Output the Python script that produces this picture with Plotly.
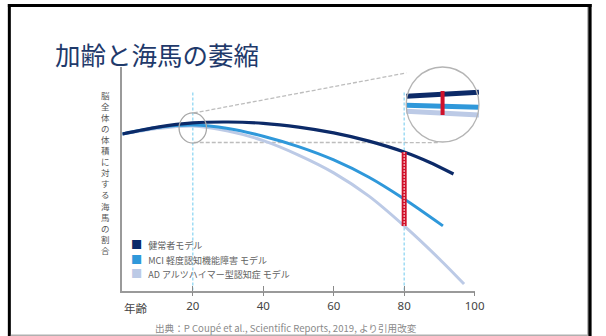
import plotly.graph_objects as go

# ---------------- data ----------------
ages_healthy = [0, 10, 20, 30, 40, 50, 60, 70, 80, 87, 94]
healthy = [70.5, 73.6, 75.5, 75.9, 75.3, 73.6, 71.0, 67.3, 62.4, 57.9, 52.5]

ages_mci = [0, 10, 20, 30, 40, 50, 60, 70, 80, 91]
mci = [70.5, 73.4, 74.5, 73.0, 69.5, 64.8, 58.8, 51.0, 41.2, 29.1]

ages_ad = [0, 10, 20, 30, 40, 50, 60, 70, 80, 90, 97]
ad = [70.5, 73.0, 74.1, 71.8, 67.5, 61.0, 53.0, 42.5, 29.1, 14.2, 2.9]

tick_vals = [20, 40, 60, 80, 100]
tick_text = ["20", "40", "60", "80", "100"]
guide_ages = [20, 80]
guide_top = 90
focus_age = 80

# magnified view around age 20 (inset)
inset_age = [17, 23]
inset_healthy = [0.61, 0.665]
inset_mci = [0.49, 0.465]
inset_ad = [0.41, 0.36]
inset_bar = [0.68, 0.36]

names = ["健常者モデル", "MCI 軽度認知機能障害 モデル", "AD アルツハイマー型認知症 モデル"]
colors = ["#0c2a68", "#2f98da", "#bccae6"]

W, H = 606, 336
def px(x):
    return x / W
def py(y):
    return 1 - y / H

fig = go.Figure()

# guide lines (age 20 / 80)
for a in guide_ages:
    fig.add_trace(go.Scatter(x=[a, a], y=[0, guide_top], mode="lines",
                             line=dict(color="#8fd6f2", width=1.3, dash="3px,2px"),
                             hoverinfo="skip", showlegend=False))

series = [(ages_ad, ad, colors[2], 3), (ages_mci, mci, colors[1], 3), (ages_healthy, healthy, colors[0], 3.2)]
for xs, ys, c, w in series:
    fig.add_trace(go.Scatter(x=xs, y=ys, mode="lines", line=dict(color=c, width=w, shape="spline", smoothing=0.8),
                             hoverinfo="skip", showlegend=False))

# red difference bar at age 80
top_v = healthy[ages_healthy.index(focus_age)]
bot_v = ad[ages_ad.index(focus_age)]
fig.add_trace(go.Scatter(x=[focus_age, focus_age], y=[top_v, bot_v], mode="lines",
                         line=dict(color="#d0112b", width=5), hoverinfo="skip", showlegend=False,
                         xaxis="x2"))
fig.add_trace(go.Scatter(x=[focus_age, focus_age], y=[top_v, bot_v], mode="lines",
                         line=dict(color="#f6c6cc", width=1.2, dash="2px,1px"), hoverinfo="skip", showlegend=False,
                         xaxis="x2"))

# inset (magnifier)
for ys, c in [(inset_ad, colors[2]), (inset_mci, colors[1]), (inset_healthy, colors[0])]:
    fig.add_trace(go.Scatter(x=inset_age, y=ys, mode="lines", line=dict(color=c, width=5),
                             xaxis="x3", yaxis="y3", hoverinfo="skip", showlegend=False))
mid = sum(inset_age) / 2
fig.add_trace(go.Scatter(x=[mid, mid], y=inset_bar, mode="lines", line=dict(color="#d0112b", width=4),
                         xaxis="x3", yaxis="y3", hoverinfo="skip", showlegend=False))

x_dom = [124.4 / W, 482.6 / W]
fig.update_layout(
    width=W, height=H,
    margin=dict(l=0, r=0, t=0, b=0),
    paper_bgcolor="white", plot_bgcolor="white",
    showlegend=False,
    font=dict(family="Noto Sans CJK JP, Noto Sans, sans-serif"),
    xaxis=dict(domain=x_dom, range=[0, 100], showgrid=False, zeroline=False,
               showline=True, linecolor="#9a9a9a", linewidth=1.5,
               ticks="outside", ticklen=4, tickwidth=1.3, tickcolor="#8a8a8a",
               tickvals=tick_vals, ticktext=tick_text,
               tickfont=dict(size=11.5, color="#444444", family="Noto Sans, sans-serif"),
               fixedrange=True),
    xaxis2=dict(domain=x_dom, matches="x", overlaying="x", anchor="y", showgrid=False, zeroline=False,
                showline=False, ticks="inside", ticklen=5, tickwidth=1.3, tickcolor="#8a8a8a",
                tickvals=tick_vals, showticklabels=False),
    yaxis=dict(domain=[py(290.5), py(67)], range=[0, (290.5 - 67) / 2.22], showgrid=False, zeroline=False,
               showline=True, linecolor="#9a9a9a", linewidth=1.5, showticklabels=False, ticks=""),
    xaxis3=dict(domain=[px(413), px(487)], range=inset_age, visible=False),
    yaxis3=dict(domain=[py(142), py(67)], range=[0, 1], visible=False, anchor="x3"),
)

shapes = []
# small magnifier circle on the main axes
cy = (290.5 - 128) / 2.22
shapes.append(dict(type="circle", xref="x", yref="y", x0=20 - 3.9, x1=20 + 3.9, y0=cy - 6.8, y1=cy + 6.8,
                   line=dict(color="#a8a8a8", width=1.3)))
# large circle framing the inset
shapes.append(dict(type="circle", xref="x3 domain", yref="y3 domain", x0=0, x1=1, y0=0, y1=1,
                   line=dict(color="#b4b4b4", width=1.3)))
# connector dashed lines
shapes.append(dict(type="line", xref="paper", yref="paper", x0=px(197), y0=py(113), x1=px(437), y1=py(68.5),
                   line=dict(color="#bdbdbd", width=1.3, dash="4px,2px"), layer="below"))
shapes.append(dict(type="line", xref="paper", yref="paper", x0=px(197), y0=py(142.5), x1=px(447), y1=py(142.5),
                   line=dict(color="#bdbdbd", width=1.3, dash="4px,2px"), layer="below"))
# slide frame
shapes.append(dict(type="line", xref="paper", yref="paper", x0=px(9.5), y0=py(4), x1=px(9.5), y1=py(336),
                   line=dict(color="black", width=3)))
shapes.append(dict(type="line", xref="paper", yref="paper", x0=px(8), y0=py(5.5), x1=px(601.5), y1=py(5.5),
                   line=dict(color="black", width=3)))
shapes.append(dict(type="line", xref="paper", yref="paper", x0=px(599.8), y0=py(4), x1=px(599.8), y1=py(336),
                   line=dict(color="black", width=3.4)))
shapes.append(dict(type="line", xref="paper", yref="paper", x0=px(597.5), y0=py(7), x1=px(597.5), y1=py(336),
                   line=dict(color="#b0b0b0", width=1)))
shapes.append(dict(type="line", xref="paper", yref="paper", x0=px(11), y0=py(335.3), x1=px(598), y1=py(335.3),
                   line=dict(color="#b0b0b0", width=1.4)))
fig.update_layout(shapes=shapes)

ann = []
ann.append(dict(text="加齢と海馬の萎縮", x=px(54), y=py(53), xref="paper", yref="paper",
                xanchor="left", yanchor="middle", showarrow=False,
                font=dict(size=25.5, color="#1f3a6b", family="Noto Sans CJK JP")))
ytitle = "脳全体の体積に対する海馬の割合"
ann.append(dict(text="<br>".join(ytitle),
                x=px(107.5), y=py(172), xref="paper", yref="paper",
                xanchor="center", yanchor="middle", showarrow=False,
                font=dict(size=8.5, color="#555555", family="Noto Sans CJK JP")))
legend_lines = []
for n, c in zip(names, colors):
    legend_lines.append('<span style="color:%s">■</span><span style="font-size:9px;color:#606060">&nbsp;&nbsp;&nbsp;%s</span>' % (c, n))
ann.append(dict(text="<br>".join(legend_lines), x=px(131), y=py(258.5), xref="paper", yref="paper",
                xanchor="left", yanchor="middle", align="left", showarrow=False,
                font=dict(size=11.2, family="Noto Sans CJK JP")))
ann.append(dict(text="年齢", x=px(138), y=py(308), xref="paper", yref="paper",
                xanchor="center", yanchor="middle", showarrow=False,
                font=dict(size=11.5, color="#444444", family="Noto Sans CJK JP")))
ann.append(dict(text="出典：P Coupé et al., Scientific Reports, 2019, より引用改変", x=px(156), y=py(327.5),
                xref="paper", yref="paper", xanchor="left", yanchor="middle", showarrow=False,
                font=dict(size=9.6, color="#8a8a8a", family="Noto Sans CJK JP")))
fig.update_layout(annotations=ann)

fig.write_html("out.html")
